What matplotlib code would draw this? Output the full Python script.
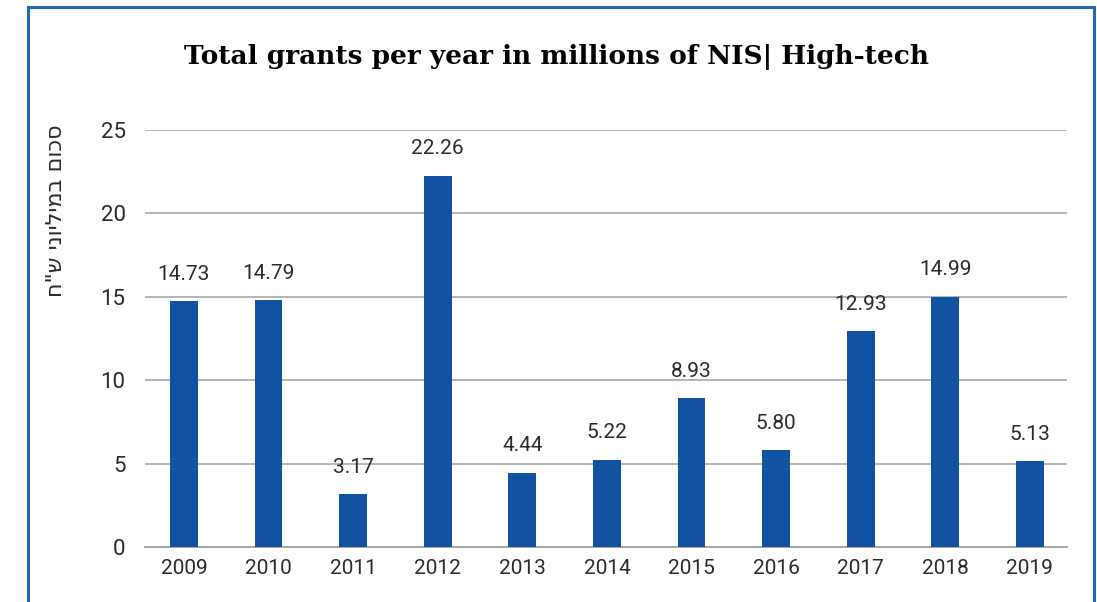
import matplotlib

matplotlib.use("Agg")
import matplotlib.pyplot as plt  # noqa: E402
from matplotlib.patches import Rectangle  # noqa: E402

years = ["2009", "2010", "2011", "2012", "2013", "2014", "2015", "2016", "2017", "2018", "2019"]
grants = [14.73, 14.79, 3.17, 22.26, 4.44, 5.22, 8.93, 5.80, 12.93, 14.99, 5.13]
y_ticks = [0, 5, 10, 15, 20, 25]

title = "Total grants per year in millions of NIS| High-tech"
y_label = 'סכום במיליוני ש"ח'

BAR = "#1252a3"
FRAME = "#2466b8"
TEXT = "#2b2b2b"

fig = plt.figure(figsize=(10.97, 6.02), dpi=100)
ax = fig.add_axes([0.1322, 0.0914, 0.8405, 0.6927])

x = range(len(years))
ax.bar(x, grants, width=0.33, color=BAR, zorder=3)
for xi, v in zip(x, grants):
    ax.text(xi, v + 1.05, f"{v:.2f}", ha="center", va="bottom",
            fontsize=15, family="Roboto", color=TEXT)

ax.set_xlim(-0.46, len(years) - 0.56)
ax.set_ylim(0, 25)
ax.set_xticks(list(x))
ax.set_xticklabels(years, family="Roboto", fontsize=15, color=TEXT)
ax.set_yticks(y_ticks)
ax.set_yticklabels([str(t) for t in y_ticks], family="Roboto", fontsize=16, color=TEXT)
ax.tick_params(axis="both", length=0)
ax.tick_params(axis="x", pad=9)
ax.tick_params(axis="y", pad=14)
ax.grid(axis="y", color="#a0a0a0", linewidth=1.1, zorder=0)
for side in ("top", "right", "left"):
    ax.spines[side].set_visible(False)
ax.spines["bottom"].set_color("#a0a0a0")
ax.spines["bottom"].set_linewidth(1.3)

fig.text(0.507, 0.906, title, ha="center", va="center", fontsize=19,
         family="DejaVu Serif", weight="bold", color="black")

# matplotlib has no bidi support, so the Hebrew is laid out reversed
fig.text(0.051, 0.650, y_label[::-1], rotation=90, ha="center", va="center",
         fontsize=16, family="DejaVu Sans", color=TEXT)

# blue card outline, open at the bottom edge
fig.patches.append(Rectangle((28 / 1097, -0.05), (1094 - 28) / 1097, 1.05 - 7 / 602,
                             transform=fig.transFigure, fill=False,
                             edgecolor=FRAME, linewidth=2.2))

fig.savefig("out.png", dpi=100)
